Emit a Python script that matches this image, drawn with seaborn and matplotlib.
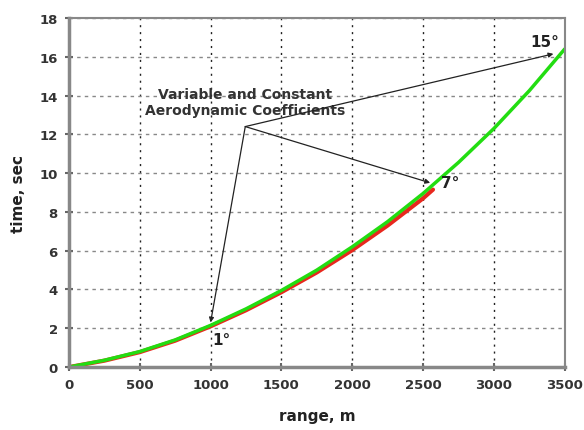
import numpy as np
import pandas as pd
import matplotlib
matplotlib.use("Agg")
import matplotlib.pyplot as plt
import seaborn as sns

# range (m) and flight time (sec)
range_green = [0, 250, 500, 750, 1000, 1250, 1500, 1750, 2000, 2250, 2500, 2750, 3000, 3250, 3500]
time_green = [0, 0.35, 0.8, 1.4, 2.15, 3.0, 3.95, 5.0, 6.2, 7.5, 8.95, 10.55, 12.3, 14.25, 16.4]
range_red = [0, 250, 500, 750, 1000, 1250, 1500, 1750, 2000, 2250, 2500, 2570]
time_red = [0, 0.33, 0.77, 1.36, 2.1, 2.93, 3.86, 4.88, 6.03, 7.3, 8.7, 9.15]

label_text = "Variable and Constant\nAerodynamic Coefficients"
apex = (1245, 12.4)
angle_labels = ["1°", "7°", "15°"]
arrow_tips = [(1000, 2.3), (2550, 9.5), (3420, 16.15)]
label_pos = [(1080, 1.4), (2690, 9.5), (3360, 16.8)]

sns.set_style("white")
plt.rcParams['font.family'] = ['DejaVu Sans']

fig, ax = plt.subplots(figsize=(5.84, 4.31), dpi=100)
fig.subplots_adjust(left=0.118, right=0.967, top=0.956, bottom=0.146)

red = pd.DataFrame({'range': range_red, 'time': time_red})
green = pd.DataFrame({'range': range_green, 'time': time_green})
sns.lineplot(data=red, x='range', y='time', color='#e8281e', lw=3, ax=ax)
sns.lineplot(data=green, x='range', y='time', color='#22dd11', lw=2.5, ax=ax)

ax.set_xlim(0, 3500)
ax.set_ylim(0, 18)
ax.set_xticks(np.arange(0, 3501, 500))
ax.set_yticks(np.arange(0, 19, 2))
ax.grid(True, axis='x', color='#222222', linestyle=(0, (1.5, 3.5)), lw=1)
ax.grid(True, axis='y', color='#888888', linestyle=(0, (2.5, 3)), lw=1)
ax.set_axisbelow(True)

for s in ax.spines.values():
    s.set_color('#888888')
    s.set_linewidth(1.5)
ax.spines['left'].set_linewidth(2.5)
ax.spines['bottom'].set_linewidth(2.5)
ax.tick_params(direction='inout', length=6, width=1.5, color='#666666',
               labelsize=9.5, bottom=True, left=True, pad=5)
for t in ax.get_xticklabels() + ax.get_yticklabels():
    t.set_fontweight('bold')
    t.set_color('#333333')

ax.set_xlabel('range, m', fontsize=11, fontweight='bold', labelpad=12, color='#222222')
ax.set_ylabel('time, sec', fontsize=11, fontweight='bold', labelpad=10, color='#222222')

ax.text(1245, 13.65, label_text, ha='center', va='center', fontsize=10,
        fontweight='bold', color='#333333', linespacing=1.2)

for tip, lab, pos in zip(arrow_tips, angle_labels, label_pos):
    ax.annotate('', xy=tip, xytext=apex,
                arrowprops=dict(arrowstyle='-|>', color='#222222', lw=0.9,
                                mutation_scale=7, shrinkA=0, shrinkB=0))
    ax.text(pos[0], pos[1], lab, ha='center', va='center', fontsize=11,
            fontweight='bold', color='#222222')

fig.savefig('out.png', dpi=100)
